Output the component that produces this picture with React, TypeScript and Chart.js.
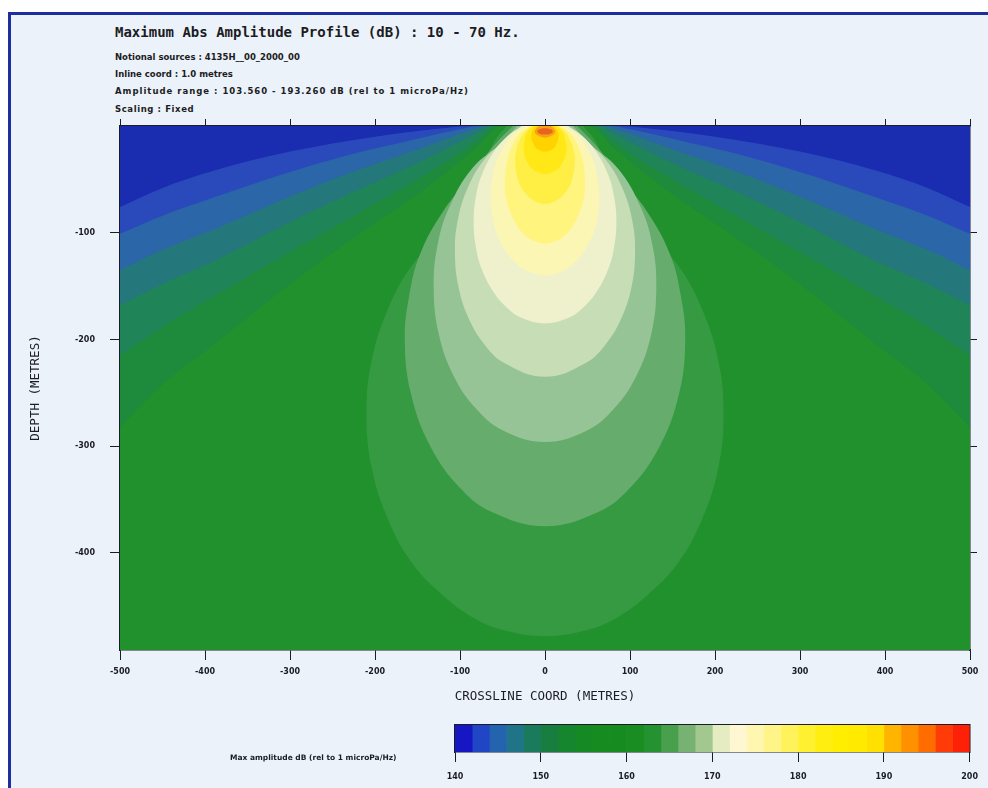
import React, { useEffect, useRef } from "react";
import { Chart, registerables } from "chart.js";

Chart.register(...registerables);

// ---------- texts ----------
const TITLE = "Maximum Abs Amplitude Profile (dB) : 10 - 70 Hz.";
const INFO_LINES = [
  "Notional sources : 4135H__00_2000_00",
  "Inline coord : 1.0 metres",
  "Amplitude range : 103.560 - 193.260 dB (rel to 1 microPa/Hz)",
  "Scaling : Fixed",
];
const X_TITLE = "CROSSLINE COORD (METRES)";
const Y_TITLE = "DEPTH (METRES)";
const CB_TITLE = "Max amplitude dB (rel to 1 microPa/Hz)";

// ---------- axes ----------
const X_MIN = -500;
const X_MAX = 500;
const Y_MIN = -491;
const Y_MAX = 0;
const X_TICKS = [-500, -400, -300, -200, -100, 0, 100, 200, 300, 400, 500];
const Y_TICKS = [-400, -300, -200, -100];

// ---------- colour scale ----------
const CB_TICKS = [140, 150, 160, 170, 180, 190, 200];
const CB_EDGES = [
  140, 142, 144, 146, 148, 150, 152, 154, 156, 158, 160, 162, 164, 166, 168, 170,
  172, 174, 176, 178, 180, 182, 184, 186, 188, 190, 192, 194, 196, 198, 200,
];
const CB_COLORS = [
  "#1616c2", "#2046c6", "#2464ae", "#1f7488", "#1a7a5c", "#177e40", "#15852e",
  "#158a24", "#168c20", "#168c20", "#198d22", "#249230", "#48a04c", "#78b272",
  "#a2c890", "#e6ecc2", "#fff6d2", "#fff6b0", "#fff488", "#fff25a", "#fff030",
  "#ffee10", "#ffee00", "#ffea00", "#ffe000", "#ffb400", "#ff9000", "#ff6c00",
  "#ff3c08", "#ff2008",
];

// ---------- contours: low-amplitude levels near the surface ----------
// right half, [crossline m, depth m]; region >= level lies below the curve
const LOW_140 = [[500, 0]];
const LOW_142 = [[88, 0], [120, 2], [200, 10], [300, 24], [390, 42], [450, 58], [500, 76]];
const LOW_144 = [[76, 0], [100, 3], [150, 12], [230, 27], [300, 43], [390, 67], [450, 84], [500, 101]];
const LOW_146 = [[68, 0], [90, 5], [150, 22], [230, 44], [300, 66], [390, 97], [450, 116], [500, 135]];
const LOW_148 = [[62, 0], [85, 9], [150, 35], [220, 60], [300, 90], [390, 127], [450, 148], [500, 168]];
const LOW_150 = [[57, 0], [80, 14], [150, 50], [220, 82], [300, 118], [390, 160], [450, 188], [500, 215]];
const LOW_152 = [[52, 0], [80, 20], [150, 64], [220, 102], [300, 148], [390, 205], [450, 242], [500, 282]];
const LOW_LEVELS = [140, 142, 144, 146, 148, 150, 152];
const LOW_CONTOURS = [LOW_140, LOW_142, LOW_144, LOW_146, LOW_148, LOW_150, LOW_152];
const LOW_COLORS = ["#1a2cb0", "#2a4abb", "#2a66a8", "#24787c", "#1f8558", "#1d8a3c", "#20912d"];

// ---------- contours: high-amplitude lobes below the source ----------
// right half, from the surface down to the bottom of the lobe: [crossline m, depth m]
const HIGH_162 = [[45, 0], [60, 15], [72, 40], [95, 70], [120, 100], [156, 130], [184, 170], [204, 220], [210, 270], [204, 320], [184, 370], [156, 410], [120, 440], [86, 460], [51, 472], [0, 478]];
const HIGH_164 = [[38, 0], [62, 20], [85, 45], [120, 80], [147, 120], [160, 160], [165, 200], [158, 250], [135, 300], [99, 340], [62, 362], [0, 375]];
const HIGH_166 = [[33, 0], [50, 15], [86, 40], [112, 75], [126, 110], [131, 150], [125, 195], [107, 235], [81, 265], [50, 285], [0, 296]];
const HIGH_168 = [[28, 0], [45, 12], [72, 32], [92, 60], [103, 90], [106, 118], [102, 150], [90, 180], [71, 205], [48, 222], [0, 235]];
const HIGH_170 = [[27, 0], [45, 10], [61, 25], [74, 45], [81, 65], [84, 90], [81, 115], [74, 135], [61, 155], [45, 170], [27, 180], [0, 185]];
const HIGH_172 = [[22, 0], [38, 8], [49, 20], [58, 35], [62, 50], [64, 67], [62, 85], [57, 100], [48, 115], [36, 127], [23, 135], [0, 140]];
const HIGH_174 = [[18, 0], [29, 6], [37, 16], [43, 28], [46, 40], [47, 52], [46, 66], [41, 80], [34, 92], [24, 102], [15, 107], [0, 110]];
const HIGH_176 = [[15, 0], [23, 5], [30, 14], [34, 24], [35, 34], [33, 46], [29, 56], [22, 64], [13, 70], [0, 73]];
const HIGH_180 = [[14, 0], [21, 6], [24, 13], [25, 20], [24, 28], [20, 35], [14, 41], [0, 45]];
const HIGH_186 = [[11, 0], [15, 5], [16, 10], [14, 16], [10, 21], [0, 24]];
const HIGH_190 = [[7, 0], [11, 3], [12, 6], [8, 9], [0, 11]];
const HIGH_194 = [[3, 2], [8, 3.5], [9, 5.5], [6, 7.5], [0, 8]];
const HIGH_LEVELS = [162, 164, 166, 168, 170, 172, 174, 176, 180, 186, 190, 194];
const HIGH_CONTOURS = [HIGH_162, HIGH_164, HIGH_166, HIGH_168, HIGH_170, HIGH_172, HIGH_174, HIGH_176, HIGH_180, HIGH_186, HIGH_190, HIGH_194];
const HIGH_COLORS = ["#359a42", "#66ac6c", "#96c496", "#c6ddb6", "#eef1cc", "#fcf6b4", "#fff47e", "#ffee44", "#ffe816", "#ffd200", "#f8a018", "#e86420"];

const TICK_FONT = { family: "DejaVu Sans", size: 8, weight: "bold" as const };
const AXIS_TITLE_FONT = { family: "DejaVu Sans Mono", size: 12.5 };
const INK = "#1c1c24";
const INFO_SPACING = ["0px", "0px", "1px", "0.6px"];

function lowPoints(c: number[][]) {
  const left = [...c].reverse().map(([x, d]) => ({ x: -x, y: -d }));
  const right = c.map(([x, d]) => ({ x, y: -d }));
  return [...left, ...right];
}
function lobePoints(c: number[][]) {
  const right = c.map(([x, d]) => ({ x, y: -d }));
  const left = c.slice(0, -1).reverse().map(([x, d]) => ({ x: -x, y: -d }));
  return [...right, ...left];
}

function MainChart() {
  const ref = useRef<HTMLCanvasElement | null>(null);
  useEffect(() => {
    if (!ref.current) return;
    const datasets: any[] = [];
    let k = 0;
    LOW_CONTOURS.forEach((c, i) => {
      datasets.push({
        label: "≥ " + LOW_LEVELS[i] + " dB",
        data: lowPoints(c),
        backgroundColor: LOW_COLORS[i],
        borderColor: "rgba(0,0,0,0)",
        borderWidth: 0,
        pointRadius: 0,
        pointHoverRadius: 0,
        cubicInterpolationMode: "monotone",
        fill: "start",
        order: 100 - k++,
      });
    });
    HIGH_CONTOURS.forEach((c, i) => {
      datasets.push({
        label: "≥ " + HIGH_LEVELS[i] + " dB",
        data: lobePoints(c),
        backgroundColor: HIGH_COLORS[i],
        borderColor: "rgba(0,0,0,0)",
        borderWidth: 0,
        pointRadius: 0,
        pointHoverRadius: 0,
        tension: 0.4,
        fill: "shape",
        order: 100 - k++,
      });
    });

    const tickGrid = (len: number) => ({
      drawOnChartArea: false,
      drawTicks: true,
      tickLength: len,
      color: INK,
      lineWidth: 1,
    });
    const border = { display: true, color: INK, width: 1.5 };

    const chart = new Chart(ref.current, {
      type: "line",
      data: { datasets },
      options: {
        responsive: false,
        animation: false,
        events: [],
        layout: { padding: 0 },
        plugins: {
          legend: { display: false },
          tooltip: { enabled: false },
          filler: { propagate: false },
        },
        scales: {
          x: {
            type: "linear",
            position: "bottom",
            min: X_MIN,
            max: X_MAX,
            afterBuildTicks: (s: any) => { s.ticks = X_TICKS.map((v) => ({ value: v })); },
            afterFit: (s: any) => { s.height = 70; },
            grid: tickGrid(10),
            border,
            ticks: { font: TICK_FONT, color: INK, padding: 7, maxRotation: 0, autoSkip: false, callback: (v: any) => String(v) },
            title: { display: true, text: X_TITLE, font: AXIS_TITLE_FONT, color: INK, padding: { top: 0, bottom: 15.5 } },
          },
          x2: {
            type: "linear",
            axis: "x",
            position: "top",
            min: X_MIN,
            max: X_MAX,
            afterBuildTicks: (s: any) => { s.ticks = X_TICKS.map((v) => ({ value: v })); },
            afterFit: (s: any) => { s.height = 126; },
            grid: tickGrid(7),
            border,
            ticks: { display: false },
          },
          y: {
            type: "linear",
            position: "left",
            min: Y_MIN,
            max: Y_MAX,
            afterBuildTicks: (s: any) => { s.ticks = Y_TICKS.map((v) => ({ value: v })); },
            afterFit: (s: any) => { s.width = 120; },
            grid: tickGrid(10),
            border,
            ticks: { font: TICK_FONT, color: INK, padding: 15, callback: (v: any) => String(v) },
            title: { display: true, text: Y_TITLE, font: AXIS_TITLE_FONT, color: INK, padding: { top: 28.5, bottom: 0 } },
          },
          y2: {
            type: "linear",
            axis: "y",
            position: "right",
            min: Y_MIN,
            max: Y_MAX,
            afterBuildTicks: (s: any) => { s.ticks = Y_TICKS.map((v) => ({ value: v })); },
            afterFit: (s: any) => { s.width = 18; },
            grid: tickGrid(7),
            border,
            ticks: { display: false },
          },
        },
      } as any,
    });
    return () => chart.destroy();
  }, []);
  return (
    <canvas
      ref={ref}
      width={988}
      height={720}
      style={{ position: "absolute", left: 0, top: 0, width: 988, height: 720 }}
    />
  );
}

function ColorBar() {
  const ref = useRef<HTMLCanvasElement | null>(null);
  useEffect(() => {
    if (!ref.current) return;
    const datasets = CB_COLORS.map((c, i) => ({
      label: CB_EDGES[i] + "-" + CB_EDGES[i + 1],
      data: [[CB_EDGES[i], CB_EDGES[i + 1]]],
      backgroundColor: c,
      borderWidth: 0,
      barPercentage: 1,
      categoryPercentage: 1,
      grouped: false,
    }));
    const border = { display: true, color: INK, width: 1.5 };
    const chart = new Chart(ref.current, {
      type: "bar",
      data: { labels: ["dB"], datasets },
      options: {
        indexAxis: "y",
        responsive: false,
        animation: false,
        events: [],
        layout: { padding: { left: 455, right: 18, top: 10, bottom: 0 } },
        plugins: { legend: { display: false }, tooltip: { enabled: false } },
        scales: {
          x: {
            type: "linear",
            position: "bottom",
            min: 140,
            max: 200,
            afterBuildTicks: (s: any) => { s.ticks = CB_TICKS.map((v) => ({ value: v })); },
            afterFit: (s: any) => { s.height = 36; },
            grid: { drawOnChartArea: false, drawTicks: true, tickLength: 10, color: INK, lineWidth: 1 },
            border,
            ticks: { font: TICK_FONT, color: INK, padding: 10, maxRotation: 0, autoSkip: false },
          },
          x2: {
            type: "linear",
            axis: "x",
            position: "top",
            min: 140,
            max: 200,
            afterFit: (s: any) => { s.height = 0; },
            grid: { display: false, drawTicks: false },
            border,
            ticks: { display: false },
          },
          y: {
            type: "category",
            position: "left",
            afterFit: (s: any) => { s.width = 0; },
            grid: { display: false, drawTicks: false },
            border,
            ticks: { display: false },
          },
          y2: {
            type: "category",
            axis: "y",
            position: "right",
            labels: ["dB"],
            afterFit: (s: any) => { s.width = 0; },
            grid: { display: false, drawTicks: false },
            border,
            ticks: { display: false },
          },
        },
      } as any,
    });
    return () => chart.destroy();
  }, []);
  return (
    <canvas
      ref={ref}
      width={988}
      height={73}
      style={{ position: "absolute", left: 0, top: 715, width: 988, height: 73 }}
    />
  );
}

export default function App() {
  const info = INFO_LINES.map((t, i) => (
    <div
      key={i}
      style={{
        position: "absolute",
        left: 115,
        top: 52 + i * 17.2,
        font: "bold 8.5px 'DejaVu Sans'",
        lineHeight: "10px",
        letterSpacing: INFO_SPACING[i],
        color: INK,
        whiteSpace: "pre",
      }}
    >
      {t}
    </div>
  ));
  return (
    <div
      style={{
        position: "absolute",
        left: 0,
        top: 0,
        width: 988,
        height: 788,
        overflow: "hidden",
        background: "#ffffff",
      }}
    >
      <div
        style={{
          position: "absolute",
          left: 8,
          top: 12,
          width: 1100,
          height: 900,
          border: "3px solid #1e2e9e",
          background: "#ebf2f9",
        }}
      />
      <div
        style={{
          position: "absolute",
          left: 115,
          top: 23,
          font: "bold 14px 'DejaVu Sans Mono'",
          lineHeight: "18px",
          color: INK,
          whiteSpace: "pre",
        }}
      >
        {TITLE}
      </div>
      {info}
      <MainChart />
      <ColorBar />
      <div
        style={{
          position: "absolute",
          left: 230,
          top: 753,
          font: "bold 7.5px 'DejaVu Sans'",
          lineHeight: "10px",
          color: INK,
          whiteSpace: "pre",
        }}
      >
        {CB_TITLE}
      </div>
    </div>
  );
}
